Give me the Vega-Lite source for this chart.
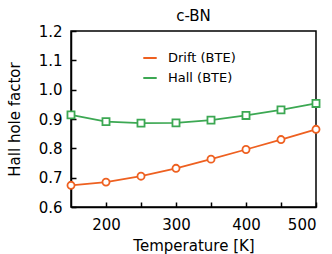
{
  "$schema": "https://vega.github.io/schema/vega-lite/v6.json",
  "autosize": "none",
  "width": 245,
  "height": 176,
  "padding": {"left": 71, "top": 31, "right": 16, "bottom": 47},
  "background": "white",
  "config": {
    "font": "DejaVu Sans",
    "view": {"stroke": "black", "strokeWidth": 1.5},
    "axis": {"grid": false, "domainColor": "black", "domainWidth": 1.5, "tickColor": "black", "tickWidth": 1.5, "labelColor": "black", "titleColor": "black", "labelFontSize": 15, "titleFontSize": 15, "titleFontWeight": "normal", "labelFont": "DejaVu Sans", "titleFont": "DejaVu Sans"}
  },
  "title": {"text": "c-BN", "fontSize": 15, "fontWeight": "normal", "font": "DejaVu Sans", "color": "black", "offset": -12, "baseline": "alphabetic"},
  "data": {"values": [
    {"T": 150, "v": 0.674, "s": "Drift (BTE)"},
    {"T": 200, "v": 0.685, "s": "Drift (BTE)"},
    {"T": 250, "v": 0.705, "s": "Drift (BTE)"},
    {"T": 300, "v": 0.732, "s": "Drift (BTE)"},
    {"T": 350, "v": 0.763, "s": "Drift (BTE)"},
    {"T": 400, "v": 0.796, "s": "Drift (BTE)"},
    {"T": 450, "v": 0.830, "s": "Drift (BTE)"},
    {"T": 500, "v": 0.865, "s": "Drift (BTE)"},
    {"T": 150, "v": 0.914, "s": "Hall (BTE)"},
    {"T": 200, "v": 0.891, "s": "Hall (BTE)"},
    {"T": 250, "v": 0.886, "s": "Hall (BTE)"},
    {"T": 300, "v": 0.887, "s": "Hall (BTE)"},
    {"T": 350, "v": 0.896, "s": "Hall (BTE)"},
    {"T": 400, "v": 0.912, "s": "Hall (BTE)"},
    {"T": 450, "v": 0.931, "s": "Hall (BTE)"},
    {"T": 500, "v": 0.953, "s": "Hall (BTE)"}
  ]},
  "encoding": {
    "x": {"field": "T", "type": "quantitative", "scale": {"domain": [150, 500], "nice": false, "zero": false},
      "axis": {"title": "Temperature [K]", "values": [200, 250, 300, 350, 400, 450, 500], "labelExpr": "datum.value % 100 == 0 ? datum.label : ''", "tickSize": -5, "labelPadding": 15, "titlePadding": 6}},
    "y": {"field": "v", "type": "quantitative", "scale": {"domain": [0.6, 1.2], "nice": false, "zero": false},
      "axis": {"title": "Hall hole factor", "values": [0.6, 0.7, 0.8, 0.9, 1.0, 1.1, 1.2], "format": ".1f", "tickSize": -5, "labelPadding": 14, "titlePadding": 16}}
  },
  "layer": [
    {"mark": {"type": "line", "strokeWidth": 1.8},
      "encoding": {"color": {"field": "s", "type": "nominal", "scale": {"domain": ["Drift (BTE)", "Hall (BTE)"], "range": ["#ee6020", "#3ca853"]}, "legend": {"title": null, "orient": "none", "legendX": 71, "legendY": 19, "symbolType": "stroke", "symbolSize": 180, "symbolStrokeWidth": 2, "labelFontSize": 13, "labelFont": "DejaVu Sans", "labelColor": "black", "rowPadding": 5, "labelOffset": 10}}}},
    {"transform": [{"filter": "datum.s == 'Drift (BTE)'"}],
      "mark": {"type": "point", "shape": "circle", "filled": false, "fill": "white", "fillOpacity": 1, "stroke": "#ee6020", "strokeWidth": 1.8, "size": 50, "opacity": 1}},
    {"transform": [{"filter": "datum.s == 'Hall (BTE)'"}],
      "mark": {"type": "point", "shape": "square", "filled": false, "fill": "white", "fillOpacity": 1, "stroke": "#3ca853", "strokeWidth": 1.8, "size": 50, "opacity": 1}}
  ]
}
